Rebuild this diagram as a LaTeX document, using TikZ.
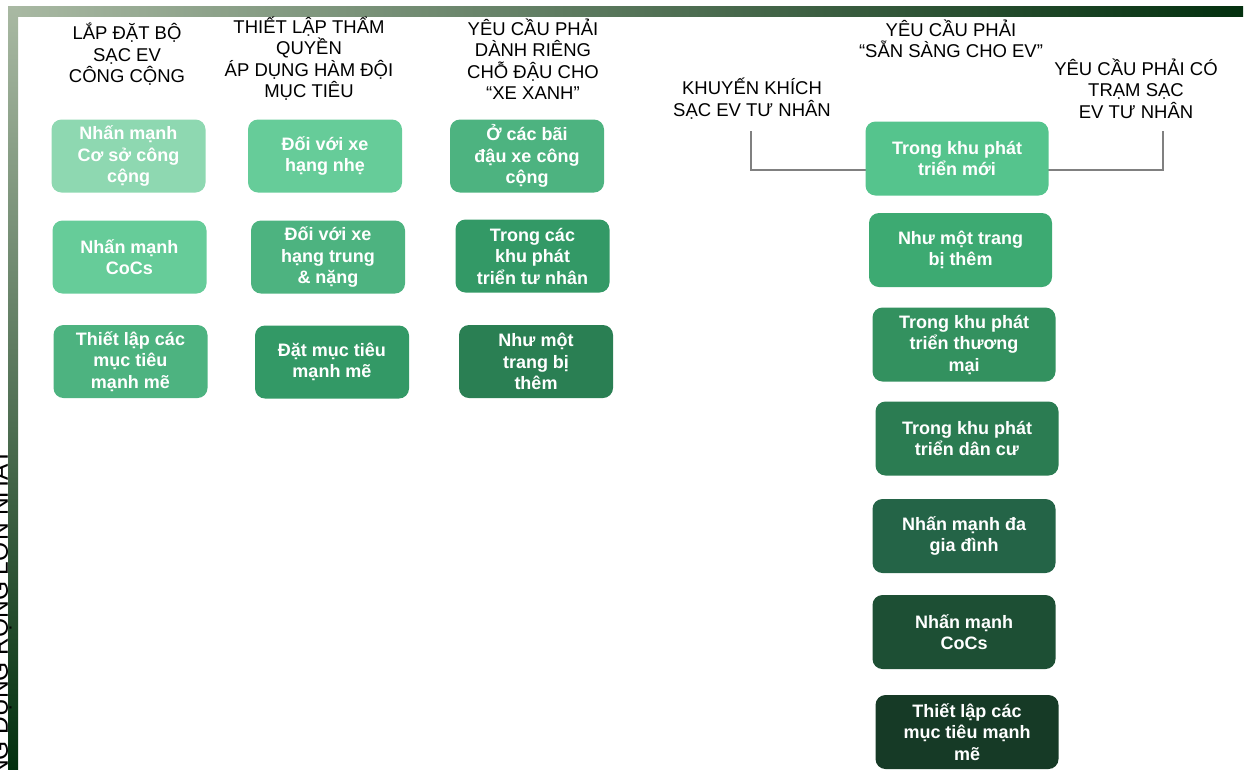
\documentclass[tikz,border=0pt]{standalone}
\usepackage{fontspec}
\setmainfont{Liberation Sans}
\definecolor{gA}{HTML}{8ED8B1}
\definecolor{gB}{HTML}{66CC99}
\definecolor{gC}{HTML}{4DB380}
\definecolor{gD}{HTML}{339966}
\definecolor{gE}{HTML}{2A7F53}
\definecolor{rA}{HTML}{55C48D}
\definecolor{rB}{HTML}{3DAA72}
\definecolor{rC}{HTML}{33915F}
\definecolor{rD}{HTML}{2B7C52}
\definecolor{rE}{HTML}{246447}
\definecolor{rF}{HTML}{1D4F34}
\definecolor{rG}{HTML}{163A26}
\definecolor{barlight}{HTML}{A9B9A3}
\definecolor{barmid}{HTML}{4B6E4B}
\definecolor{bardark}{HTML}{03300F}

\begin{document}
\begin{tikzpicture}[
    x=1pt, y=-1pt,
    head/.style={align=center, inner sep=0pt, font=\fontsize{18.5}{21.5}\selectfont},
    box/.style={rounded corners=10pt, align=center, text=white, inner sep=0pt,
        minimum width=154pt, minimum height=73pt,
        font=\bfseries\fontsize{18}{21.5}\selectfont},
    widebox/.style={box, minimum width=183pt, minimum height=74pt},
    bracket/.style={draw=gray, line width=1.2pt}
]
\useasboundingbox (0,0) rectangle (1246,769);
% frame bars
\shade[left color=barlight, middle color=barmid, right color=bardark]
    (8,6) rectangle (1243,16);
\shade[top color=barlight, middle color=barmid, bottom color=bardark]
    (8,6) rectangle (18,769);
\node[rotate=90, anchor=base east, inner sep=0pt,
    font=\fontsize{24.5}{28}\selectfont] (side) at (8,449)
    {ỨNG DỤNG RỘNG LỚN NHẤT};

% headings
\node[head] (h1) at (127,54.5) {LẮP ĐẶT BỘ\\SẠC EV\\CÔNG CỘNG};
\node[head] (h2) at (309,58.5) {THIẾT LẬP THẨM\\QUYỀN\\ÁP DỤNG HÀM ĐỘI\\MỤC TIÊU};
\node[head] (h3) at (533,59) {YÊU CẦU PHẢI\\DÀNH RIÊNG\\CHỖ ĐẬU CHO\\“XE XANH”};
\node[head] (h4) at (951,39) {YÊU CẦU PHẢI\\“SẴN SÀNG CHO EV”};
\node[head] (h5) at (752,98.5) {KHUYẾN KHÍCH\\SẠC EV TƯ NHÂN};
\node[head] (h6) at (1136,88.5) {YÊU CẦU PHẢI CÓ\\TRẠM SẠC\\EV TƯ NHÂN};

% bracket
\coordinate (brL) at (751,131);
\coordinate (brR) at (1163,131);
\draw[bracket] (brL) -- ++(0,39) -| (brR);

% three left columns
\foreach \n/\x/\y/\c/\t in {
    a1/128.5/156/gA/{Nhấn mạnh\\Cơ sở công\\cộng},
    a2/129.5/257/gB/{Nhấn mạnh\\CoCs},
    a3/130.5/361.5/gC/{Thiết lập các\\mục tiêu\\mạnh mẽ},
    b1/325/156/gB/{Đối với xe\\hạng nhẹ},
    b2/328/257/gC/{Đối với xe\\hạng trung\\\& nặng},
    b3/332/362/gD/{Đặt mục tiêu\\mạnh mẽ},
    c1/527/156/gC/{Ở các bãi\\đậu xe công\\cộng},
    c2/532.5/256/gD/{Trong các\\khu phát\\triển tư nhân},
    c3/536/361.5/gE/{Như một\\trang bị\\thêm}}{
    \node[box, fill=\c] (\n) at (\x,\y) {\t};
}

% right column
\foreach \n/\x/\y/\c/\t in {
    d1/957/158.5/rA/{Trong khu phát\\triển mới},
    d2/960.5/250/rB/{Như một trang\\bị thêm},
    d3/964/344.5/rC/{Trong khu phát\\triển thương\\mại},
    d4/967/438.5/rD/{Trong khu phát\\triển dân cư},
    d5/964/536/rE/{Nhấn mạnh đa\\gia đình},
    d6/964/632/rF/{Nhấn mạnh\\CoCs},
    d7/967/732/rG/{Thiết lập các\\mục tiêu mạnh\\mẽ}}{
    \node[widebox, fill=\c] (\n) at (\x,\y) {\t};
}
\end{tikzpicture}
\end{document}
